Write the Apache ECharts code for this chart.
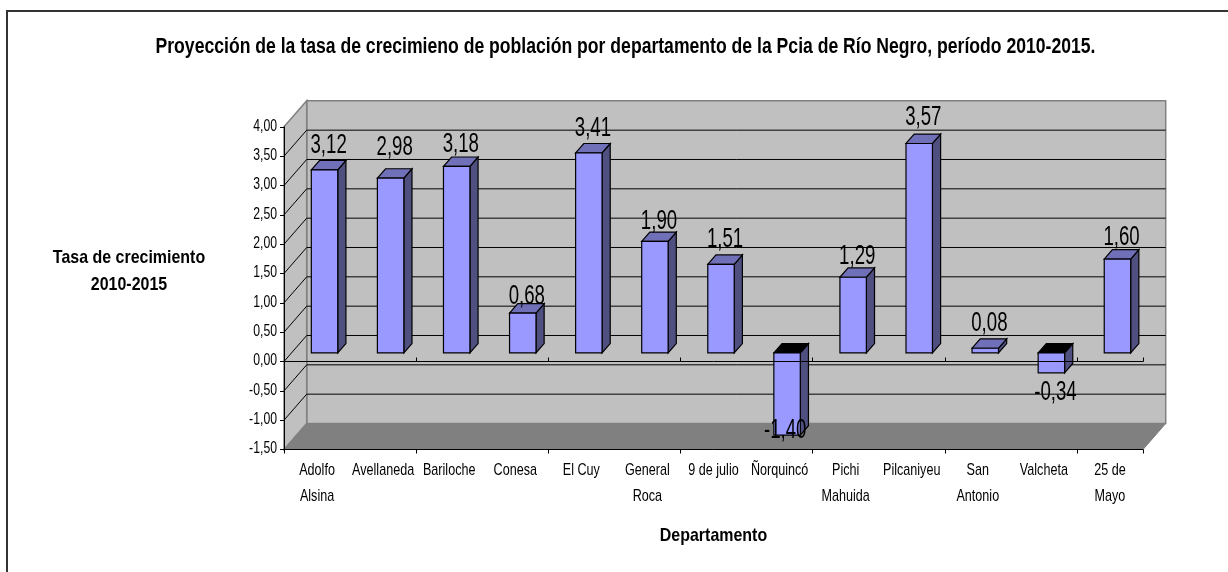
<!DOCTYPE html>
<html>
<head>
<meta charset="utf-8">
<style>
  html, body { margin: 0; padding: 0; background: #fff; }
  #chart { width: 1228px; height: 572px; }
</style>
</head>
<body>
<div id="chart"></div>
<script src="https://cdn.jsdelivr.net/npm/echarts@6/dist/echarts.min.js"></script>
<script>
const departamentos = ["Adolfo\nAlsina", "Avellaneda", "Bariloche", "Conesa", "El Cuy", "General\nRoca", "9 de julio", "Ñorquincó", "Pichi\nMahuida", "Pilcaniyeu", "San\nAntonio", "Valcheta", "25 de\nMayo"];
const tasas = [3.12, 2.98, 3.18, 0.68, 3.41, 1.90, 1.51, -1.40, 1.29, 3.57, 0.08, -0.34, 1.60];
const yMin = -1.5;
const yMax = 4;
const yStep = 0.5;
const yTicks = [-1.5, -1, -0.5, 0, 0.5, 1, 1.5, 2, 2.5, 3, 3.5, 4];

const titulo = "Proyección de la tasa de crecimieno de población por departamento de la Pcia de Río Negro, período 2010-2015.";
const tituloY = "Tasa de crecimiento\n2010-2015";
const tituloX = "Departamento";

// proyeccion del falso 3D: cuanto se corre el fondo respecto del frente
const depthX = 22.7;
const depthY = 26;
const barFront = 0.33; // posicion del frente de la barra dentro de la profundidad
const barBack = 0.69;
const barRatio = 0.4; // ancho de barra / ancho de categoria

// correccion vertical de cada etiqueta, en Excel no quedan a distancia fija de la barra
const labelDy = [-15, -21, -12, -7, -15, -11, -15, -5, -11, -17, -15, 20, -12];

const FONT = '"Liberation Sans", Arial, sans-serif';

const fmt = (v) => v.toFixed(2).replace(".", ",");
const depth = (p, f) => [p[0] + f * depthX, p[1] - f * depthY];
const poly = (points, fill, stroke, lineWidth) => ({
  type: "polygon",
  shape: { points: points },
  style: { fill: fill, stroke: stroke, lineWidth: lineWidth },
});
const seg = (a, b, color) => ({
  type: "line",
  shape: { x1: a[0], y1: a[1], x2: b[0], y2: b[1] },
  style: { stroke: color, lineWidth: 1, fill: null },
});
// texto angosto: el original usa Arial comprimida
const squeezed = (text, x, y, o) => ({
  type: "text",
  x: x,
  y: y,
  scaleX: o.scaleX,
  style: {
    text: text,
    font: (o.bold ? "bold " : "") + o.size + "px " + FONT,
    fill: "#000",
    align: o.align || "center",
    verticalAlign: o.valign || "middle",
    lineHeight: o.lineHeight,
  },
});

// paredes, piso y lineas de division
function renderWalls(params, api) {
  const c = params.coordSys;
  const left = c.x;
  const right = c.x + c.width;
  const yOf = (v) => api.coord([0, v])[1];
  const top = yOf(yMax);
  const bottom = yOf(yMin);
  const children = [
    poly([depth([left, top], 1), depth([right, top], 1), depth([right, bottom], 1), depth([left, bottom], 1)], "#c0c0c0", "#808080", 1.5),
    poly([[left, top], depth([left, top], 1), depth([left, bottom], 1), [left, bottom]], "#c0c0c0", "#808080", 1.5),
    poly([[left, bottom], depth([left, bottom], 1), depth([right, bottom], 1), [right, bottom]], "#808080", "#808080", 1),
  ];
  yTicks.forEach((t) => {
    if (t === yMax || t === yMin) return;
    const y = yOf(t);
    children.push(seg(depth([left, y], 1), depth([right, y], 1), "#000"));
    children.push(seg([left, y], depth([left, y], 1), "#000"));
  });
  return { type: "group", children: children };
}

function renderBar(params, api) {
  const i = api.value(0);
  const v = api.value(1);
  const mid = api.coord([i, 0])[0];
  const half = (api.size([1, 0])[0] * barRatio) / 2;
  const y0 = api.coord([i, 0])[1];
  const yv = api.coord([i, v])[1];
  const a = [mid - half, y0];
  const b = [mid + half, y0];
  const c = [mid + half, yv];
  const d = [mid - half, yv];
  // la cara de arriba va siempre sobre el extremo mas alto
  const upL = v >= 0 ? d : a;
  const upR = v >= 0 ? c : b;
  const lowR = v >= 0 ? b : c;
  const lowL = v >= 0 ? a : d;
  return {
    type: "group",
    children: [
      poly([depth(upR, barFront), depth(upR, barBack), depth(lowR, barBack), depth(lowR, barFront)], "#4f4f80", "#000", 1.2),
      poly([depth(upL, barFront), depth(upL, barBack), depth(upR, barBack), depth(upR, barFront)], v >= 0 ? "#7070b8" : "#000", "#000", 1.2),
      poly([depth(upL, barFront), depth(upR, barFront), depth(lowR, barFront), depth(lowL, barFront)], "#9999ff", "#000", 1.2),
    ],
  };
}

function renderLabel(params, api) {
  const i = api.value(0);
  const v = api.value(1);
  const p = api.coord([i, v]);
  const edge = depth(p, v >= 0 ? barBack : barFront);
  const cx = p[0] + ((barFront + barBack) / 2) * depthX;
  return squeezed(fmt(v), cx + (i === 7 ? -6 : 0), edge[1] + labelDy[i], { size: 27, scaleX: 0.69 });
}

function renderCategory(params, api) {
  const i = api.value(0);
  const p = api.coord([i, yMin]);
  return squeezed(departamentos[i], p[0], p[1] + 8, { size: 17, scaleX: 0.74, valign: "top", lineHeight: 26 });
}

function renderYTick(params, api) {
  const t = api.value(1);
  const p = api.coord([0, t]);
  return squeezed(fmt(t), params.coordSys.x - 7, p[1] - 1, { size: 17, scaleX: 0.72, align: "right" });
}

const barData = tasas.map((v, i) => [i, v]);
const catData = departamentos.map((d, i) => [i, yMin]);
const tickData = yTicks.map((t) => [0, t]);
const customBase = { type: "custom", clip: false, silent: true, encode: { x: 0, y: 1 } };

const chart = echarts.init(document.getElementById("chart"));
chart.setOption({
  animation: false,
  backgroundColor: "#fff",
  graphic: [
    {
      type: "rect",
      shape: { x: 7, y: 11, width: 1400, height: 800 },
      style: { fill: null, stroke: "#333", lineWidth: 2 },
      z: 0,
    },
    {
      type: "text",
      x: 625.5,
      y: 47,
      scaleX: 0.8,
      style: { text: titulo, font: "bold 22px " + FONT, fill: "#000", align: "center", verticalAlign: "middle" },
    },
    {
      type: "text",
      x: 129,
      y: 271,
      scaleX: 0.84,
      style: { text: tituloY, font: "bold 19px " + FONT, lineHeight: 27, fill: "#000", align: "center", verticalAlign: "middle" },
    },
    {
      type: "text",
      x: 713.5,
      y: 536,
      scaleX: 0.84,
      style: { text: tituloX, font: "bold 19px " + FONT, fill: "#000", align: "center", verticalAlign: "middle" },
    },
  ],
  grid: { left: 284, top: 126.83, width: 859, height: 322.67 },
  xAxis: [
    {
      type: "category",
      data: departamentos,
      z: 4,
      axisLine: { onZero: false, lineStyle: { color: "#000" } },
      axisTick: { show: true, length: 4, lineStyle: { color: "#000" } },
      axisLabel: { show: false },
    },
    {
      type: "category",
      data: departamentos,
      z: 4,
      axisLine: { onZero: true, lineStyle: { color: "#000" } },
      axisTick: { show: true, length: 4, lineStyle: { color: "#000" } },
      axisLabel: { show: false },
    },
  ],
  yAxis: {
    type: "value",
    min: yMin,
    max: yMax,
    interval: yStep,
    z: 4,
    splitLine: { show: false },
    axisLine: { show: true, lineStyle: { color: "#000" } },
    axisTick: { show: true, length: 4, lineStyle: { color: "#000" } },
    axisLabel: { show: false },
  },
  series: [
    { ...customBase, name: "paredes", z: 1, data: [[0, 0]], renderItem: renderWalls },
    { ...customBase, name: "tasa", z: 3, data: barData, renderItem: renderBar },
    { ...customBase, name: "etiquetas", z: 6, data: barData, renderItem: renderLabel },
    { ...customBase, name: "categorias", z: 6, data: catData, renderItem: renderCategory },
    { ...customBase, name: "ticks", z: 6, data: tickData, renderItem: renderYTick },
  ],
});
</script>
</body>
</html>
